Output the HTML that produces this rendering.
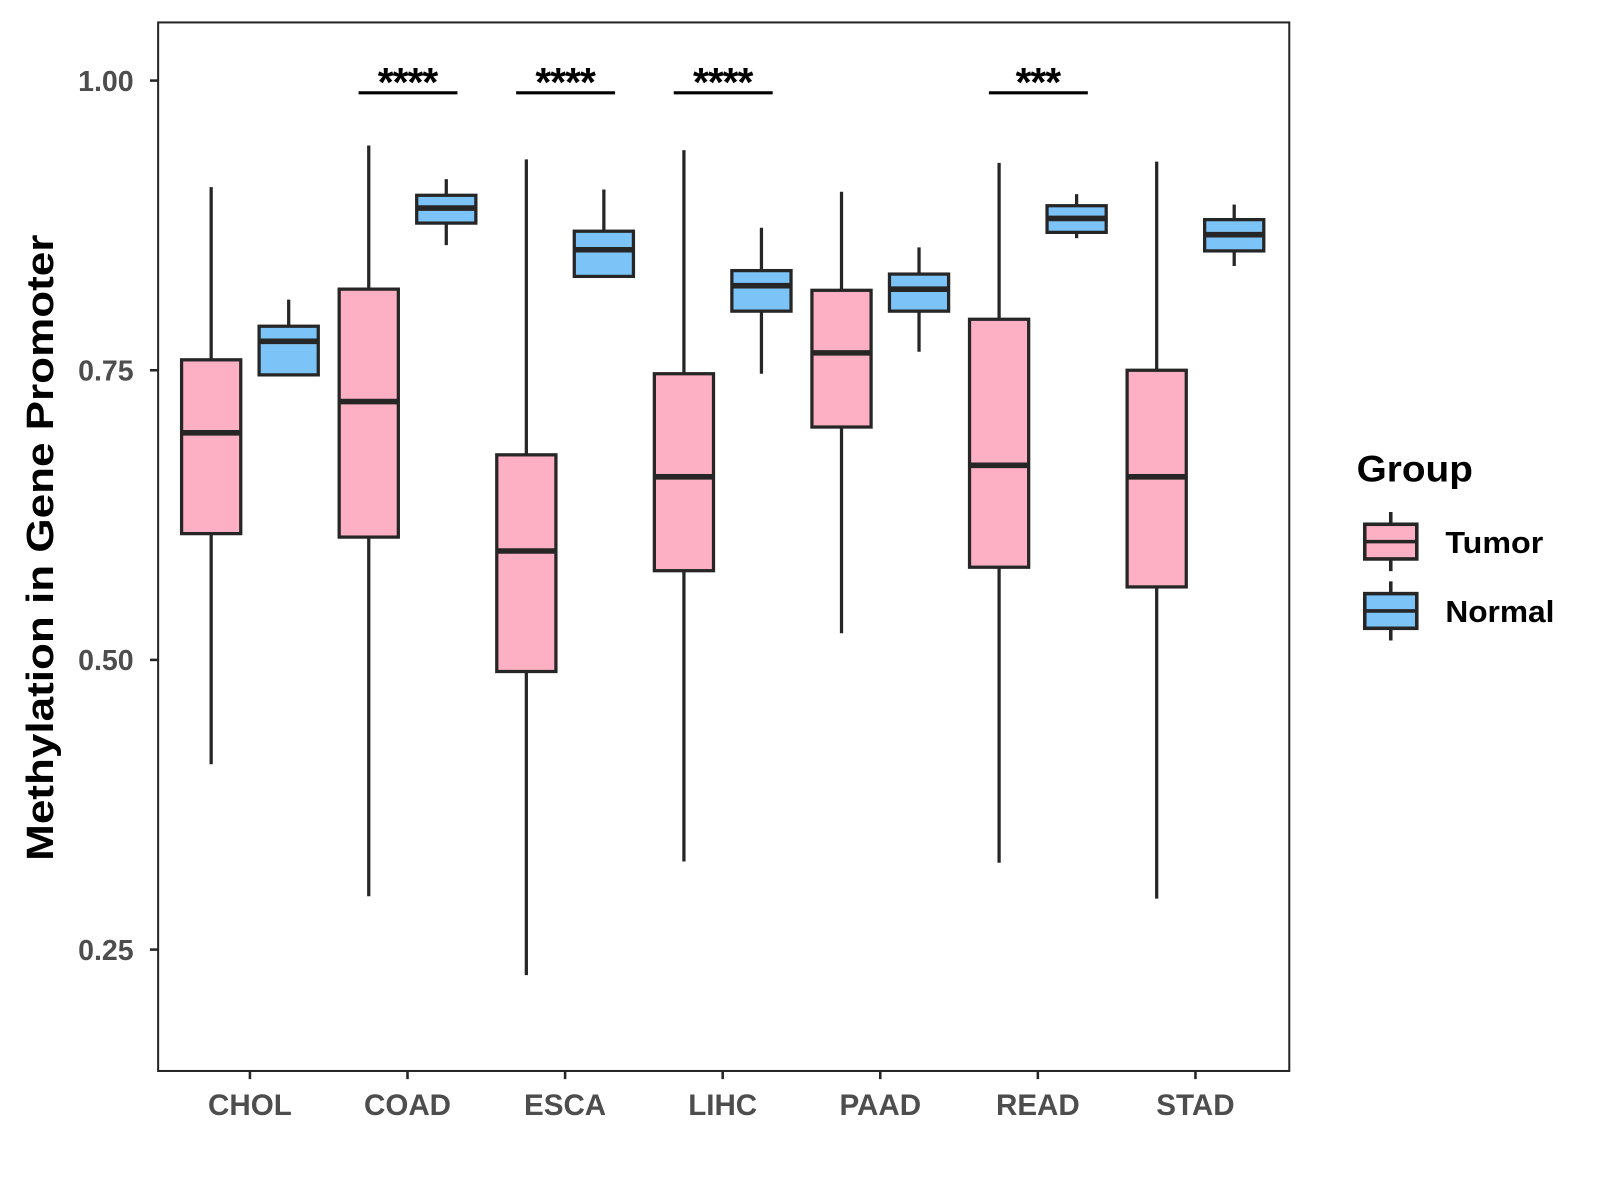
<!DOCTYPE html>
<html><head><meta charset="utf-8"><style>
html,body{margin:0;padding:0;background:#fff;}
svg{display:block;font-family:"Liberation Sans",Arial,sans-serif;}
</style></head><body>
<svg id="chart" width="1600" height="1200" viewBox="0 0 1568.6 1176.5" xmlns="http://www.w3.org/2000/svg">
<rect x="0" y="0" width="1568.6" height="1176.5" fill="#fff"/>
<rect x="155" y="22" width="1109" height="1028" fill="none" stroke="#262626" stroke-width="2"/>
<g id="marks"></g>
<g id="axes"></g>
<text transform="translate(52,537) rotate(-90)" text-anchor="middle" font-size="37" font-weight="bold" fill="#000" textLength="614" lengthAdjust="spacingAndGlyphs">Methylation in Gene Promoter</text>
<g>
<text x="1330" y="472" font-size="36" font-weight="bold" fill="#000" textLength="114" lengthAdjust="spacingAndGlyphs">Group</text>
<g>
<line x1="1363.5" y1="502" x2="1363.5" y2="560" stroke="#262626" stroke-width="3.5"/>
<rect x="1338" y="514" width="51" height="34" fill="#FDB0C3" stroke="#262626" stroke-width="3.5"/>
<line x1="1338" y1="531" x2="1389" y2="531" stroke="#262626" stroke-width="3.5"/>
<text x="1417" y="542" font-size="30" font-weight="bold" fill="#000" textLength="96" lengthAdjust="spacingAndGlyphs">Tumor</text>
</g>
<g>
<line x1="1363.5" y1="570" x2="1363.5" y2="628" stroke="#262626" stroke-width="3.5"/>
<rect x="1338" y="582" width="51" height="34" fill="#7CC3F7" stroke="#262626" stroke-width="3.5"/>
<line x1="1338" y1="599" x2="1389" y2="599" stroke="#262626" stroke-width="3.5"/>
<text x="1417" y="610" font-size="30" font-weight="bold" fill="#000" textLength="107" lengthAdjust="spacingAndGlyphs">Normal</text>
</g>
</g>
</svg>
<script>
const categories = ["CHOL","COAD","ESCA","LIHC","PAAD","READ","STAD"];
// [lowWhisker, Q1, median, Q3, highWhisker]
const tumorStats = [
 [0.410,0.609,0.696,0.759,0.908],
 [0.296,0.606,0.723,0.820,0.944],
 [0.228,0.490,0.594,0.677,0.932],
 [0.326,0.577,0.658,0.747,0.940],
 [0.523,0.701,0.765,0.819,0.904],
 [0.325,0.580,0.668,0.794,0.929],
 [0.294,0.563,0.658,0.750,0.930]
];
const normalStats = [
 [0.745,0.746,0.775,0.788,0.811],
 [0.858,0.877,0.890,0.901,0.915],
 [0.831,0.831,0.854,0.870,0.906],
 [0.747,0.801,0.823,0.836,0.873],
 [0.766,0.801,0.820,0.833,0.856],
 [0.864,0.869,0.881,0.892,0.902],
 [0.840,0.853,0.867,0.880,0.893]
];
const sigLabels = ["","****","****","****","","***",""];
const yTicks = [0.25,0.50,0.75,1.00];
const yTickLabels = ["0.25","0.50","0.75","1.00"];

const NS="http://www.w3.org/2000/svg";
function y(v){return 79+(1-v)*1136;}
function xc(i){return 245+i*154.5;}
function mk(tag,attrs,parent){const e=document.createElementNS(NS,tag);for(const k in attrs)e.setAttribute(k,attrs[k]);parent.appendChild(e);return e;}
const marks=document.getElementById('marks'), axes=document.getElementById('axes');

function drawBox(s,cx,fill,name){
  const g=mk('g',{},marks);
  
  
  mk('line',{x1:cx,x2:cx,y1:y(s[4]),y2:y(s[0]),stroke:'#262626','stroke-width':3.2},g);
  mk('rect',{x:cx-29,y:y(s[3]),width:58,height:y(s[1])-y(s[3]),fill:fill,stroke:'#262626','stroke-width':3.2},g);
  mk('line',{x1:cx-29,x2:cx+29,y1:y(s[2]),y2:y(s[2]),stroke:'#262626','stroke-width':5.5},g);
}
categories.forEach((c,i)=>{
  drawBox(tumorStats[i],xc(i)-38,'#FDB0C3','box-tumor-'+c.toLowerCase());
  drawBox(normalStats[i],xc(i)+38,'#7CC3F7','box-normal-'+c.toLowerCase());
  if(sigLabels[i]){
    const l=mk('line',{x1:xc(i)-48,x2:xc(i)+49,y1:91,y2:91,stroke:'#000','stroke-width':3},marks);
    
    
    const t=mk('text',{x:xc(i),y:94,'text-anchor':'middle','font-size':40,'font-weight':'bold',fill:'#000','letter-spacing':'-1'},marks);
    t.textContent=sigLabels[i];
    
    
  }
  mk('line',{x1:xc(i),x2:xc(i),y1:1050,y2:1058,stroke:'#262626','stroke-width':2.5},axes);
  const xt=mk('text',{x:xc(i),y:1093,'text-anchor':'middle','font-size':29,'font-weight':'bold',fill:'#4d4d4d'},axes);
  xt.textContent=c;
  
  
});
yTicks.forEach((v,i)=>{
  mk('line',{x1:147,x2:155,y1:y(v),y2:y(v),stroke:'#262626','stroke-width':2.5},axes);
  const t=mk('text',{x:131,y:y(v)+10,'text-anchor':'end','font-size':28,'font-weight':'bold',fill:'#4d4d4d'},axes);
  t.textContent=yTickLabels[i];
  
  
});
</script>
</body></html>
